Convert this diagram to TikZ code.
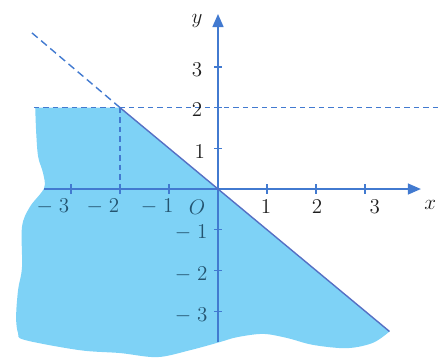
\documentclass[tikz,border=0pt]{standalone}
\usepackage{tikz}
\usetikzlibrary{arrows.meta, calc}
\definecolor{regionfill}{RGB}{126,210,246}
\definecolor{axisblue}{RGB}{66,122,208}
\definecolor{lineblue}{RGB}{86,112,196}
\definecolor{lblin}{RGB}{36,84,112}
\definecolor{lblout}{RGB}{30,30,30}

\begin{document}
\begin{tikzpicture}[x=0.98cm, y=0.814cm,
  every node/.style={font=\fontsize{13}{15}\selectfont, inner sep=1pt},
  axis/.style={axisblue, line width=0.8pt, -{Triangle[length=2.6mm, width=2.2mm]}},
  bound/.style={lineblue, line width=0.8pt},
  guide/.style={axisblue, line width=0.8pt, dash pattern=on 1.1mm off 0.8mm},
  slantguide/.style={axisblue, line width=0.8pt, dash pattern=on 1.5mm off 0.9mm},
  tickmark/.style={axisblue, line width=0.7pt},
  lblin/.style={text=lblin},
  lblout/.style={text=lblout}
]
  \useasboundingbox (-4.449,-4.201) rectangle (4.551,4.644);

  % --- key points ---
  \coordinate (O)    at (0,0);
  \coordinate (A)    at (-2,2);
  \coordinate (Aleft) at (-3.76,2);
  \coordinate (Aright) at (4.55,2);
  \coordinate (Ax)   at (-2,0);
  \coordinate (Bend) at (3.5,-3.5);
  \coordinate (Cend) at (-3.84,3.88);
  \coordinate (xbeg) at (-3.55,0);
  \coordinate (xend) at (4.14,0);
  \coordinate (ybeg) at (0,-3.76);
  \coordinate (yend) at (0,4.3);

  % --- solution region (torn edge) ---
  \fill[regionfill] (A) -- (-3.73,2) -- plot[smooth, tension=0.55] coordinates {
      (-3.73,2) (-3.71,1.38) (-3.67,0.79) (-3.57,0.39) (-3.55,0.02)
      (-3.84,-0.44) (-4.0,-0.93) (-4.0,-1.92) (-4.08,-2.48) (-4.12,-3.14)
      (-4.08,-3.54) (-3.94,-3.71) (-2.82,-3.96) (-2.0,-4.03) (-1.24,-4.13)
      (-0.57,-3.96) (0.04,-3.76) (0.39,-3.64) (0.92,-3.56) (1.41,-3.66)
      (1.94,-3.83) (2.63,-3.91) (3.16,-3.78) (3.5,-3.5)} -- cycle;

  % --- guide lines ---
  \draw[guide] (Aleft) -- (Aright);
  \draw[guide] (A) -- (Ax);
  \draw[slantguide] (A) -- (Cend);

  % --- axes ---
  \draw[axis] (xbeg) -- (xend);
  \draw[axis] (ybeg) -- (yend);
  \foreach \i in {-3,-2,-1,1,2,3} {
    \draw[tickmark] (\i,-0.12) -- (\i,0.12);
    \draw[tickmark] (-0.08,\i) -- (0.08,\i);
  }

  % --- boundary y = -x ---
  \draw[bound] (A) -- (Bend);

  % --- labels ---
  \node[lblout] (ylbl) at (-0.43,4.13) {$y$};
  \node[lblout] (xlbl) at (4.33,-0.39) {$x$};
  \node[lblin]  (olbl) at (-0.43,-0.44) {$O$};

  \node[lblin]  (xm3) at (-3.37,-0.44) {$-\;3$};
  \node[lblin]  (xm2) at (-2.35,-0.44) {$-\;2$};
  \node[lblin]  (xm1) at (-1.24,-0.44) {$-\;1$};
  \node[lblout] (xp1) at (0.98,-0.44) {$1$};
  \node[lblout] (xp2) at (2.02,-0.44) {$2$};
  \node[lblout] (xp3) at (3.2,-0.44) {$3$};

  \node[lblout] (yp3) at (-0.43,2.92) {$3$};
  \node[lblout] (yp2) at (-0.43,1.94) {$2$};
  \node[lblout] (yp1) at (-0.37,0.91) {$1$};
  \node[lblin]  (ym1) at (-0.55,-1.06) {$-\;1$};
  \node[lblin]  (ym2) at (-0.55,-2.11) {$-\;2$};
  \node[lblin]  (ym3) at (-0.55,-3.12) {$-\;3$};

\end{tikzpicture}
\end{document}
